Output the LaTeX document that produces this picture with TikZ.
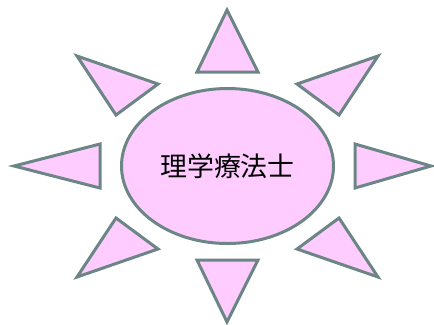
\documentclass[tikz,border=0pt]{standalone}
\usepackage{fontspec}
\usepackage{tikz}
\usetikzlibrary{shapes.geometric}
\newfontfamily\jpfont{Noto Sans CJK JP}
\definecolor{sunpink}{HTML}{FFCCFF}
\definecolor{rayline}{HTML}{6C8585}

\begin{document}
\begin{tikzpicture}[
    x=1bp, y=-1bp,
    ray/.style={draw=rayline, fill=sunpink, line width=3bp, line join=miter},
    sun/.style={ellipse, draw=rayline, fill=sunpink, line width=3bp, inner sep=0pt,
        minimum width=212bp, minimum height=155bp, font=\jpfont\fontsize{27}{31}\selectfont}
]
    \useasboundingbox (0,0) rectangle (434,324);

    % Centre
    \node[sun] (sun) at (227.5,166) {理学療法士};

    % Rays
    \draw[ray] (227,10) -- (258,72) -- (197,72) -- cycle;
    \draw[ray] (227,322) -- (258,260) -- (197,260) -- cycle;
    \draw[ray] (14,166) -- (100,144) -- (100,188) -- cycle;
    \draw[ray] (431,166) -- (355,144) -- (355,188) -- cycle;
    \draw[ray] (77,56) -- (158,84) -- (116,115) -- cycle;
    \draw[ray] (378,56) -- (297,84) -- (339,115) -- cycle;
    \draw[ray] (77,277) -- (158,249) -- (116,218) -- cycle;
    \draw[ray] (378,277) -- (297,249) -- (339,218) -- cycle;
\end{tikzpicture}
\end{document}
